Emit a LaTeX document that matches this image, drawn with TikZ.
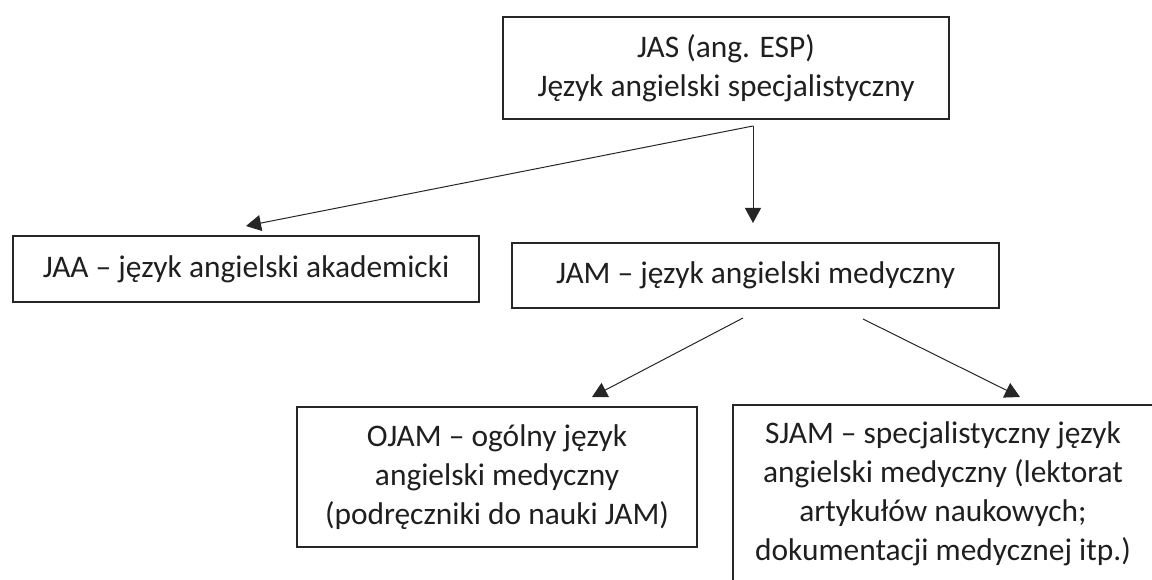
\documentclass[tikz,border=0pt]{standalone}
\usepackage{fontspec}
\setmainfont{Carlito}
\usetikzlibrary{arrows.meta}
\begin{document}
\begin{tikzpicture}[x=1pt,y=-1pt,
  box/.style={draw=black!85, line width=1.3pt, align=center, inner sep=0pt,
    font=\fontsize{31.4}{39}\selectfont, text=black!88},
  conn/.style={draw=black!85, line width=1pt, -{Triangle[length=15pt,width=16pt]}}]
\useasboundingbox (0,0) rectangle (1152,580);
\node[box, minimum width=446pt, minimum height=102pt] (top) at (726,68)
  {JAS (ang. ESP)\\Język angielski specjalistyczny};
\node[box, minimum width=466pt, minimum height=66pt] (jaa) at (246,269)
  {JAA – język angielski akademicki};
\node[box, minimum width=487pt, minimum height=65pt] (jam) at (755.5,275.5)
  {JAM – język angielski medyczny};
\node[box, minimum width=400pt, minimum height=140pt] (ojam) at (497,477)
  {OJAM – ogólny język\\angielski medyczny\\(podręczniki do nauki JAM)};
\node[box, minimum width=420pt, minimum height=177pt] (sjam) at (943,493.5)
  {SJAM – specjalistyczny język\\angielski medyczny (lektorat\\artykułów naukowych;\\dokumentacji medycznej itp.)};
\coordinate (topout) at (753,126);
\coordinate (jaain) at (246,226);
\coordinate (jamin) at (753,223);
\coordinate (jamoutl) at (743,318);
\coordinate (jamoutr) at (863,319);
\coordinate (ojamin) at (592,397);
\coordinate (sjamin) at (1020,397);
\draw[conn] (topout) -- (jaain);
\draw[conn] (topout) -- (jamin);
\draw[conn] (jamoutl) -- (ojamin);
\draw[conn] (jamoutr) -- (sjamin);
\end{tikzpicture}
\end{document}
